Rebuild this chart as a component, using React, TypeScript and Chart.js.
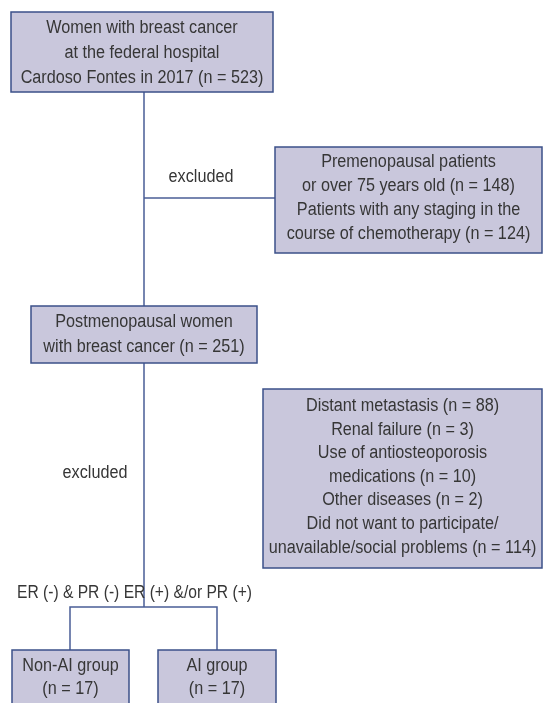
import React, { useEffect, useRef } from "react";
import { Chart, registerables } from "chart.js";

Chart.register(...registerables);

// ---- content (data) ----
const boxTop = ["Women with breast cancer", "at the federal hospital", "Cardoso Fontes in 2017 (n = 523)"];
const boxExcl1 = ["Premenopausal patients", "or over 75 years old (n = 148)", "Patients with any staging in the", "course of chemotherapy (n = 124)"];
const boxMid = ["Postmenopausal women", "with breast cancer (n = 251)"];
const boxExcl2 = [
  "Distant metastasis (n = 88)",
  "Renal failure (n = 3)",
  "Use of antiosteoporosis",
  "medications (n = 10)",
  "Other diseases (n = 2)",
  "Did not want to participate/",
  "unavailable/social problems (n = 114)",
];
const boxNonAI = ["Non-AI group", "(n = 17)"];
const boxAI = ["AI group", "(n = 17)"];
const excludedLabel = "excluded";
const branchLabel = "ER (-) & PR (-) ER (+) &/or PR (+)";

// ---- layout (chart units: x 0..550, y 0..703 top-down) ----
const boxLayout = [
  { lines: boxTop, x0: 11, x1: 273, y0: 12, y1: 92, first: 28, lh: 25 },
  { lines: boxExcl1, x0: 275, x1: 542, y0: 147, y1: 253, first: 162, lh: 24 },
  { lines: boxMid, x0: 31, x1: 257, y0: 306, y1: 363, first: 322, lh: 25 },
  { lines: boxExcl2, x0: 263, x1: 542, y0: 389, y1: 568, first: 406, lh: 23.6 },
  { lines: boxNonAI, x0: 12, x1: 129, y0: 650, y1: 720, first: 666, lh: 23.5 },
  { lines: boxAI, x0: 158, x1: 276, y0: 650, y1: 720, first: 666, lh: 23.5 },
];
const connectors = [
  [{ x: 144, y: 92 }, { x: 144, y: 306 }],
  [{ x: 144, y: 198 }, { x: 275, y: 198 }],
  [{ x: 144, y: 363 }, { x: 144, y: 607 }],
  [{ x: 70, y: 650 }, { x: 70, y: 607 }, { x: 217, y: 607 }, { x: 217, y: 650 }],
];
const freeLabels = [
  { text: excludedLabel, x: 201, y: 177, align: "center", sx: 0.9 },
  { text: excludedLabel, x: 95, y: 473, align: "center", sx: 0.9 },
  { text: branchLabel, x: 17, y: 593, align: "left", sx: 0.867 },
];

const FONT = '18px "Liberation Sans", Arial, sans-serif';
const SCALE_X = 0.9;
const TEXT_COLOR = "#363636";
const LINE_COLOR = "#4a5e96";
const BOX_FILL = "#c9c7dc";
const BOX_BORDER = "#3b5089";

function drawText(ctx: CanvasRenderingContext2D, t: string, x: number, y: number, align: string, sx: number) {
  ctx.save();
  ctx.translate(x, y);
  ctx.scale(sx, 1);
  ctx.textAlign = align as CanvasTextAlign;
  ctx.textBaseline = "middle";
  ctx.fillText(t, 0, 0);
  ctx.restore();
}

const flowPlugin = {
  id: "flow",
  beforeDatasetsDraw(chart: any) {
    const { ctx } = chart;
    ctx.save();
    ctx.fillStyle = "#ffffff";
    ctx.fillRect(0, 0, chart.width, chart.height);
    ctx.restore();
  },
  afterDatasetsDraw(chart: any) {
    const { ctx, scales } = chart;
    const xs = scales.x, ys = scales.y;
    ctx.save();
    for (const b of boxLayout) {
      const px0 = xs.getPixelForValue(b.x0), px1 = xs.getPixelForValue(b.x1);
      const py0 = ys.getPixelForValue(b.y0), py1 = ys.getPixelForValue(b.y1);
      ctx.fillStyle = BOX_FILL;
      ctx.fillRect(px0, py0, px1 - px0, py1 - py0);
      ctx.strokeStyle = BOX_BORDER;
      ctx.lineWidth = 1.5;
      ctx.strokeRect(px0, py0, px1 - px0, py1 - py0);
      ctx.fillStyle = TEXT_COLOR;
      ctx.font = FONT;
      const cx = (px0 + px1) / 2;
      b.lines.forEach((t, i) => {
        drawText(ctx, t, cx, ys.getPixelForValue(b.first + i * b.lh), "center", SCALE_X);
      });
    }
    ctx.fillStyle = TEXT_COLOR;
    ctx.font = FONT;
    for (const l of freeLabels) {
      drawText(ctx, l.text, xs.getPixelForValue(l.x), ys.getPixelForValue(l.y), l.align, l.sx);
    }
    ctx.restore();
  },
};

export default function App() {
  const ref = useRef<HTMLCanvasElement | null>(null);
  useEffect(() => {
    if (!ref.current) return;
    const chart = new Chart(ref.current, {
      type: "scatter",
      data: {
        datasets: connectors.map((pts) => ({
          data: pts,
          showLine: true,
          borderColor: LINE_COLOR,
          borderWidth: 1.5,
          pointRadius: 0,
          fill: false,
          tension: 0,
        })),
      },
      options: {
        animation: false,
        responsive: false,
        maintainAspectRatio: false,
        layout: { padding: 0 },
        plugins: { legend: { display: false }, tooltip: { enabled: false } },
        scales: {
          x: { type: "linear", min: 0, max: 550, display: false },
          y: { type: "linear", min: 0, max: 703, reverse: true, display: false },
        },
      },
      plugins: [flowPlugin],
    });
    return () => chart.destroy();
  }, []);
  return (
    <div style={{ position: "absolute", left: 0, top: 0, width: 550, height: 703, background: "#fff" }}>
      <canvas ref={ref} width={550} height={703} style={{ display: "block", width: 550, height: 703 }} />
    </div>
  );
}
